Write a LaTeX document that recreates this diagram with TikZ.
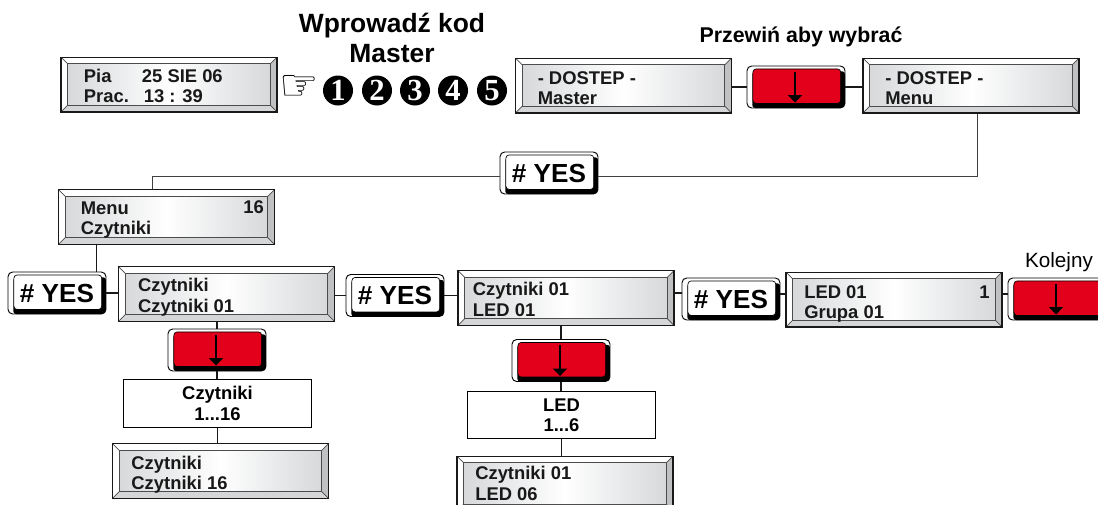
\documentclass[tikz,border=0pt]{standalone}
\usepackage{fontspec}
\setmainfont{Liberation Sans}
\newfontfamily\handfont{DejaVu Sans}
\newfontfamily\digitfont{Liberation Serif}
\usetikzlibrary{arrows.meta,calc}
\definecolor{lcdgray}{RGB}{212,214,216}
\definecolor{bevelgray}{RGB}{150,152,154}
\definecolor{keyred}{RGB}{226,0,26}
\tikzset{
	lcd/.style={draw=black!90, line width=1pt, minimum width=162pt, minimum height=41pt,
		inner sep=0pt, left color=lcdgray, right color=lcdgray, middle color=white,
		path picture={
			\coordinate (pa) at (path picture bounding box.north west);
			\coordinate (pb) at (path picture bounding box.south east);
			\coordinate (qa) at ($(pa)+(5pt,-5pt)$);
			\coordinate (qb) at ($(pb)+(-5pt,5pt)$);
			\fill[white] (pa) -- (pa-|pb) -- (qa-|qb) -- (qa) -- cycle;
			\fill[white] (pa) -- (pa|-pb) -- (qa|-qb) -- (qa) -- cycle;
			\fill[lcdgray] (pb) -- (pa|-pb) -- (qa|-qb) -- (qb) -- cycle;
			\fill[bevelgray!60] (pb) -- (pa-|pb) -- (qa-|qb) -- (qb) -- cycle;
			\draw[black!70, line width=.5pt] (pa) -- (qa) (pa-|pb) -- (qa-|qb) (pa|-pb) -- (qa|-qb) (pb) -- (qb);
			\draw[black!70, line width=.8pt] (qa) rectangle (qb);
		}},
	lcdtext/.style={font=\bfseries\fontsize{13.8}{15.2}\selectfont, align=left, anchor=west, inner sep=0pt, text=black!90},
	key/.style={draw=black, line width=.7pt, rounded corners=3.5pt, minimum width=73.5pt,
		minimum height=31.5pt, inner sep=0pt, fill=white,
		font=\bfseries\fontsize{19.6}{20}\selectfont,
		path picture={
			\coordinate (pa) at (path picture bounding box.north west);
			\coordinate (pb) at (path picture bounding box.south east);
			\fill[black, rounded corners=2pt] ($(pa)+(4pt,-4pt)$) rectangle (pb);
			\draw[black, fill=#1, rounded corners=2.5pt, line width=.5pt] ($(pa)+(4.4pt,-2.2pt)$) rectangle ($(pb)+(-3.2pt,3.4pt)$);
		}},
	whitebox/.style={draw=black, line width=.7pt, fill=white, minimum width=141.5pt, minimum height=35.5pt,
		inner sep=0pt, align=center, font=\bfseries\fontsize{13.8}{15.2}\selectfont},
	dial/.style={circle, fill=black, text=white, minimum size=22.5pt, inner sep=0pt,
		font=\digitfont\bfseries\fontsize{23}{23}\selectfont},
	wire/.style={black!90, line width=1.3pt},
	thinwire/.style={black!75, line width=.6pt},
	keyarrow/.style={-{Triangle[width=10.5pt,length=5.5pt]}, black, line width=1.4pt},
	heading/.style={font=\bfseries, inner sep=0pt, align=center}
}
\begin{document}
\begin{tikzpicture}[x=.75pt, y=-.75pt]
\useasboundingbox (0,0) rectangle (1098,504);

\foreach \lname/\x/\y/\off/\dy/\ltext in {
	d1/169/84.5/17.5/-1/{\makebox[43.5pt][l]{Pia}25 SIE 06\\\makebox[45pt][l]{Prac.}13 : 39},
	d2/623.5/85.5/17/-1.75/{- DOSTEP -\\Master},
	d3/971/85.5/17/-1.75/{- DOSTEP -\\Menu},
	d4/166.5/217/17/-2.5/{Menu\\Czytniki},
	d5/226.5/294/15/-2.5/{Czytniki\\Czytniki 01},
	d6/220.5/471/14.5/-3/{Czytniki\\Czytniki 16},
	d7/566/298/11.5/-1/{Czytniki 01\\LED 01},
	d8/565/483.5/14/0/{Czytniki 01\\LED 06},
	d9/894/299.5/14/-3.25/{LED 01\\Grupa 01}}
{
	\node[lcd] (\lname) at (\x,\y) {};
	\node[lcdtext] (\lname t) at ([xshift=\off pt, yshift=\dy pt]\lname.west) {\ltext};
}
\node[lcdtext] (d4n) at (243,207) {16};
\node[lcdtext] (d9n) at (979,292) {1};

\foreach \kname/\x/\y in {k1/796/87, k2/217/350, k3/561/360.5, k4/1057/299}
{
	\node[key=keyred] (\kname) at (\x,\y) {};
	\draw[keyarrow] ([xshift=-.7pt, yshift=-4.5pt]\kname.north) -- ([xshift=-.7pt, yshift=4.5pt]\kname.south);
}

\foreach \kname/\x/\y in {y0/549/173, y1/57/293, y2/395/295.5, y3/731/299}
	\node[key=white] (\kname) at (\x,\y) {\# YES};

\node[whitebox] (b1) at (217.5,403.5) {Czytniki\\1...16};
\node[whitebox] (b2) at (561.5,415) {LED\\1...6};

\node[heading, font=\bfseries\fontsize{19.8}{22.5}\selectfont] (title) at (392,38) {Wprowadź kod\\Master};
\node[heading, font=\bfseries\fontsize{16}{17}\selectfont] (scroll) at (801,37) {Przewiń aby wybrać};
\node[inner sep=0pt, font=\fontsize{15.5}{16}\selectfont] (next) at (1059,262) {Kolejny};
\node[inner sep=0pt, font=\handfont\fontsize{33}{33}\selectfont] (hand) at (299,88) {☞};

\foreach \n/\x in {1/338, 2/377, 3/415, 4/453, 5/492}
	\node[dial] (c\n) at (\x,90.5) {\n};

\draw[wire] (d2.east |- k1.west) -- (k1.west);
\draw[wire] (k1.east) -- (k1.east -| d3.west);
\draw[thinwire] ([xshift=4.5pt]d3.south) |- ([yshift=-2.25pt]y0.east);
\draw[thinwire] ([yshift=-2.25pt]y0.west) -| ([xshift=-10.9pt]d4.north);
\draw[wire] ([xshift=-7.5pt]y1.north east) -- ([xshift=-7.5pt]y1.north east |- d4.south);
\draw[wire] (y1.east) -- (y1.east -| d5.west);
\draw[wire] (k2.north) -- (k2.north |- d5.south);
\draw[wire] (k2.south) -- (k2.south |- b1.north);
\draw[wire] (b1.south) -- (b1.south |- d6.north);
\draw[wire] (d5.east |- y2.west) -- (y2.west);
\draw[wire] (y2.east) -- (y2.east -| d7.west);
\draw[wire] (k3.north) -- (k3.north |- d7.south);
\draw[wire] (k3.south) -- (k3.south |- b2.north);
\draw[wire] (b2.south) -- (b2.south |- d8.north);
\draw[wire] ([yshift=3.5pt]d7.east) -- ([yshift=3.5pt]d7.east -| y3.west);
\draw[wire] ([yshift=4pt]y3.east) -- ([yshift=4pt]y3.east -| d9.west);
\draw[wire] ([yshift=4pt]k4.west) -- ([yshift=4pt]k4.west -| d9.east);
\end{tikzpicture}
\end{document}
